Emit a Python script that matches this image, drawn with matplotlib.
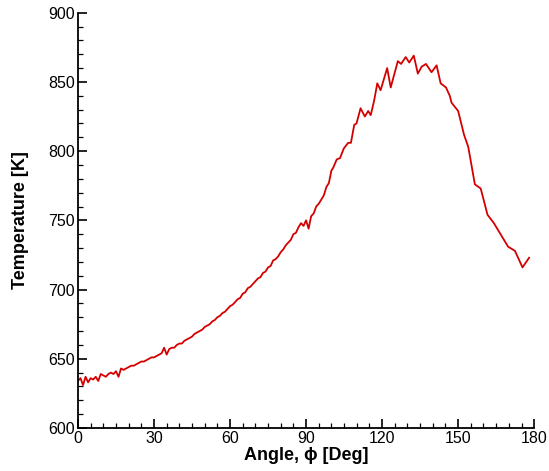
import numpy as np
import matplotlib.pyplot as plt
from matplotlib.ticker import MultipleLocator

plt.rcParams['font.family'] = ['Liberation Sans', 'DejaVu Sans']

# angle [deg] and temperature [K]
angle_left = np.arange(0, 101)
temp_left = [634, 636, 631, 637, 633, 636, 635, 637, 634, 639,
             638, 637, 639, 640, 639, 641, 637, 643, 642, 643,
             644, 645, 645, 646, 647, 648, 648, 649, 650, 651,
             651, 652, 653, 654, 658, 653, 657, 658, 658, 660,
             661, 661, 663, 664, 665, 666, 668, 669, 670, 671,
             673, 674, 675, 677, 678, 680, 681, 683, 684, 686,
             688, 689, 691, 693, 694, 697, 698, 701, 702, 704,
             706, 708, 709, 712, 713, 716, 717, 721, 722, 724,
             727, 729, 732, 734, 736, 740, 741, 745, 748, 746,
             750, 744, 753, 755, 760, 762, 765, 768, 774, 777,
             786]
angle_right = [100.7, 102.1, 103.4, 104.9, 106.6, 107.7, 109.0, 109.9, 111.5, 113.2,
               114.5, 115.5, 116.8, 118.1, 119.4, 122.0, 123.4, 126.2, 127.5, 129.3,
               130.7, 132.5, 134.1, 135.6, 137.3, 139.5, 141.5, 143.1, 145.2, 146.7,
               147.4, 150.0, 152.3, 154.0, 156.6, 158.9, 161.6, 164.1, 169.7, 172.4,
               175.4, 178.0]
temp_right = [788, 794, 795, 802, 806, 806, 819, 820, 831, 825,
              829, 826, 836, 849, 844, 860, 846, 865, 863, 868,
              864, 869, 856, 861, 863, 857, 862, 849, 846, 840,
              835, 829, 812, 803, 776, 773, 754, 748, 731, 728,
              716, 723]

angle = np.concatenate([angle_left, angle_right])
temp = np.concatenate([temp_left, temp_right])

fig = plt.figure(figsize=(5.49, 4.71), dpi=100)
ax = fig.add_axes([0.142, 0.0913, 0.831, 0.8817])
ax.plot(angle, temp, color='#d40000', linewidth=1.3)

ax.set_xlim(0, 180)
ax.set_ylim(600, 900)
ax.xaxis.set_major_locator(MultipleLocator(30))
ax.xaxis.set_minor_locator(MultipleLocator(5))
ax.yaxis.set_major_locator(MultipleLocator(50))
ax.yaxis.set_minor_locator(MultipleLocator(10))
ax.tick_params(which='major', direction='in', length=6.5, width=1.2, labelsize=11.5, pad=2)
ax.tick_params(which='minor', direction='in', length=3.3, width=0.9)
ax.tick_params(top=False, right=False)
for s in ['top', 'right']:
    ax.spines[s].set_visible(False)
for s in ['left', 'bottom']:
    ax.spines[s].set_linewidth(1.3)

ax.set_xlabel('Angle, \u03d5 [Deg]', fontsize=13, fontweight='bold', labelpad=1)
ax.set_ylabel('Temperature [K]', fontsize=13, fontweight='bold', labelpad=14)

fig.savefig('out.png', dpi=100)
